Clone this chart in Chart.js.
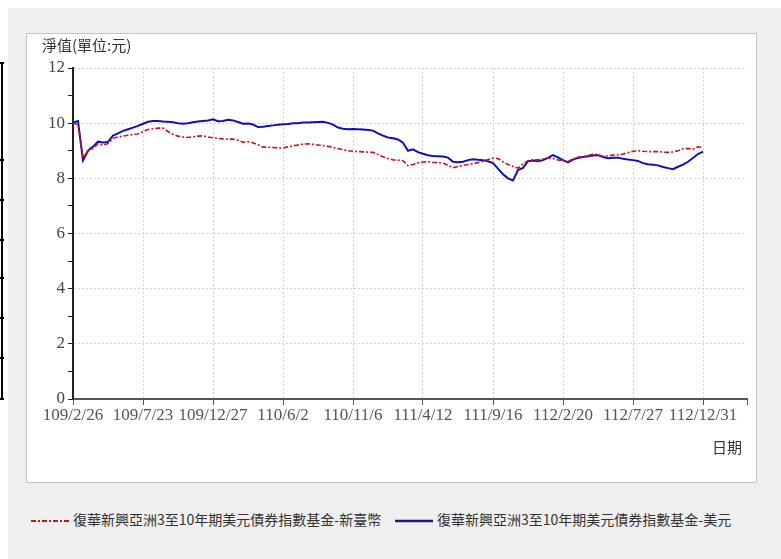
<!DOCTYPE html>
<html>
<head>
<meta charset="utf-8">
<script src="https://cdn.jsdelivr.net/npm/chart.js@4.4.1/dist/chart.umd.min.js"></script>
<style>
  body { margin: 0; background: #fff; width: 781px; height: 559px; overflow: hidden; position: relative; }
  #panel { position: absolute; left: 8px; top: 8px; width: 773px; height: 551px; background: #efefef; }
  #frame { position: absolute; left: 26px; top: 33px; width: 729px; height: 448px; background: #fff; border: 1px solid #c4c4c4; }
  #frame canvas { display: block; }
  .edge { position: absolute; background: #000; }
  .legend { position: absolute; top: 509px; font: 14px "Noto Sans CJK TC", sans-serif; color: #333; white-space: nowrap; }
  .legend svg { vertical-align: middle; margin-right: 4px; }
</style>
</head>
<body>
<div id="panel"></div>
<div id="frame"><canvas id="navChart" width="729" height="448"></canvas></div>
<div id="edges"></div>
<div class="legend" style="left:31px"><svg width="38" height="6"><line x1="0" y1="3" x2="38" y2="3" stroke="#c8141e" stroke-width="2" stroke-dasharray="5,2,2,2"/></svg><span id="lg0"></span></div>
<div class="legend" style="left:395px"><svg width="38" height="6"><line x1="0" y1="3" x2="38" y2="3" stroke="#1a1a80" stroke-width="2.5"/></svg><span id="lg1"></span></div>
<script>
// --- data (14 samples per date tick) ---
const tickLabels = ['109/2/26','109/7/23','109/12/27','110/6/2','110/11/6','111/4/12','111/9/16','112/2/20','112/7/27','112/12/31'];
const seriesNames = ['復華新興亞洲3至10年期美元債券指數基金-新臺幣', '復華新興亞洲3至10年期美元債券指數基金-美元'];
const samplesPerTick = 14;

const twdValues = [
  10.0,9.95,8.75,9.0,9.08,9.25,9.2,9.26,9.45,9.5,
  9.53,9.56,9.59,9.61,9.7,9.77,9.8,9.82,9.82,9.7,
  9.6,9.53,9.5,9.48,9.51,9.53,9.54,9.5,9.47,9.45,
  9.43,9.42,9.42,9.38,9.31,9.33,9.29,9.22,9.13,9.13,
  9.12,9.1,9.1,9.14,9.18,9.21,9.24,9.25,9.23,9.21,
  9.19,9.16,9.12,9.08,9.04,9.0,8.98,8.97,8.96,8.95,
  8.94,8.86,8.78,8.72,8.67,8.66,8.64,8.46,8.5,8.56,
  8.59,8.6,8.58,8.57,8.55,8.48,8.38,8.43,8.47,8.5,
  8.53,8.57,8.62,8.68,8.73,8.72,8.6,8.5,8.43,8.37,
  8.52,8.64,8.67,8.67,8.7,8.74,8.72,8.67,8.64,8.61,
  8.7,8.77,8.78,8.82,8.88,8.86,8.8,8.82,8.84,8.85,
  8.88,8.93,8.98,9.0,8.98,8.97,8.97,8.97,8.95,8.94,
  8.96,9.0,9.07,9.08,9.06,9.14,9.12
];
const usdValues = [
  10.02,10.08,8.65,9.0,9.15,9.33,9.3,9.32,9.55,9.63,
  9.72,9.78,9.84,9.9,9.98,10.05,10.08,10.08,10.06,10.05,
  10.03,10.0,9.98,10.0,10.03,10.06,10.08,10.1,10.14,10.07,
  10.08,10.12,10.1,10.04,9.98,9.99,9.95,9.86,9.87,9.9,
  9.92,9.94,9.96,9.97,10.0,10.0,10.02,10.02,10.03,10.04,
  10.05,10.01,9.95,9.84,9.8,9.78,9.79,9.78,9.77,9.75,
  9.73,9.63,9.55,9.48,9.45,9.41,9.29,9.0,9.05,8.95,
  8.89,8.84,8.81,8.8,8.79,8.75,8.6,8.58,8.6,8.66,
  8.69,8.67,8.66,8.62,8.55,8.35,8.15,8.0,7.92,8.3,
  8.38,8.62,8.65,8.62,8.66,8.74,8.84,8.76,8.66,8.58,
  8.68,8.74,8.77,8.8,8.83,8.84,8.77,8.73,8.75,8.75,
  8.71,8.68,8.66,8.63,8.55,8.51,8.49,8.47,8.41,8.37,
  8.33,8.42,8.5,8.6,8.74,8.88,8.97
];
const yTicks = [0, 2, 4, 6, 8, 10, 12];

document.getElementById('lg0').textContent = seriesNames[0];
document.getElementById('lg1').textContent = seriesNames[1];

// --- clipped table border at the far left ---
const edges = document.getElementById('edges');
function addEdge(l, t, w, h) {
  const d = document.createElement('div');
  d.className = 'edge';
  d.style.cssText = `left:${l}px;top:${t}px;width:${w}px;height:${h}px`;
  edges.appendChild(d);
}
addEdge(1, 62, 2, 338);
[62, 159, 199, 239, 277, 317, 357, 398].forEach(y => addEdge(0, y, 4, 2));

const xMax = (tickLabels.length - 1) * samplesPerTick + 8.8;
const tickFont = { family: '"Liberation Serif", "DejaVu Serif", serif', size: 17 };

// --- title and axis caption drawn on canvas ---
const captions = {
  id: 'captions',
  afterDraw(chart) {
    const c = chart.ctx;
    c.save();
    c.fillStyle = '#333';
    c.font = '15px "Noto Sans CJK TC", sans-serif';
    c.textBaseline = 'middle';
    c.textAlign = 'left';
    c.fillText('淨值(單位:元)', 15, 11);
    c.textAlign = 'right';
    c.fillText('日期', 715, 413);
    c.restore();
  }
};

new Chart(document.getElementById('navChart'), {
  type: 'line',
  data: {
    datasets: [
      {
        label: seriesNames[0],
        data: twdValues.map((v, i) => ({ x: i, y: v })),
        borderColor: '#c8141e',
        borderWidth: 1.6,
        borderDash: [5, 2, 2, 2],
        pointRadius: 0,
        tension: 0
      },
      {
        label: seriesNames[1],
        data: usdValues.map((v, i) => ({ x: i, y: v })),
        borderColor: '#1010b8',
        borderWidth: 2,
        pointRadius: 0,
        tension: 0
      }
    ]
  },
  options: {
    responsive: false,
    animation: false,
    layout: { padding: { left: 0, top: 34, right: 9, bottom: 0 } },
    plugins: { legend: { display: false }, tooltip: { enabled: false } },
    scales: {
      x: {
        type: 'linear',
        min: 0,
        max: xMax,
        afterBuildTicks: s => {
          s.ticks = tickLabels.map((t, i) => ({ value: i * samplesPerTick }));
          s.ticks.push({ value: xMax });
        },
        afterFit: s => { s.height = 83; },
        ticks: {
          autoSkip: false,
          maxRotation: 0,
          padding: 0,
          color: '#555',
          font: tickFont,
          callback: v => v % samplesPerTick === 0 && tickLabels[v / samplesPerTick] !== undefined ? tickLabels[v / samplesPerTick] : ''
        },
        grid: {
          color: ctx => (ctx.tick && ctx.tick.value === xMax) || ctx.index === 0 ? 'rgba(0,0,0,0)' : '#d4d4d4',
          tickColor: '#555',
          tickLength: 6
        },
        border: { color: '#555', width: 2, dash: [2, 2] }
      },
      y: {
        min: 0,
        max: 12,
        afterBuildTicks: s => {
          s.ticks = [];
          for (let v = 0; v <= 12; v++) s.ticks.push({ value: v });
        },
        afterFit: s => { s.width = 46; },
        ticks: {
          padding: 3,
          color: '#444',
          font: tickFont,
          callback: v => yTicks.includes(v) ? String(v) : ''
        },
        grid: {
          color: ctx => ctx.tick && yTicks.includes(ctx.tick.value) && ctx.tick.value > 0 ? '#d4d4d4' : 'rgba(0,0,0,0)',
          tickColor: '#222',
          tickLength: 5
        },
        border: { color: '#222', width: 2, dash: [2, 2] }
      }
    }
  },
  plugins: [captions]
});
</script>
</body>
</html>
